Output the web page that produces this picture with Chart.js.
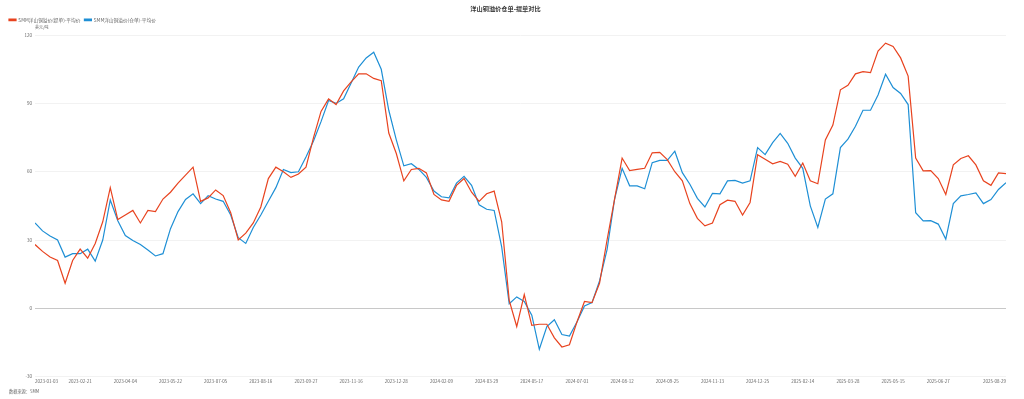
<!DOCTYPE html>
<html lang="zh">
<head>
  <meta charset="UTF-8" />
  <title>洋山铜溢价仓单-提单对比</title>
  <script src="https://cdn.jsdelivr.net/npm/chart.js"></script>
  <style>
    html, body { margin: 0; padding: 0; background: #fff; }
    #wrap { width: 1024px; height: 399px; }
  </style>
</head>
<body>
  <div id="wrap"><canvas id="premiumChart" width="1024" height="399"></canvas></div>
  <script>
    // x 轴刻度（交易日序号 -> 日期）
    const tickDates = ['2023-01-03', '2023-02-21', '2023-04-04', '2023-05-22', '2023-07-05', '2023-08-16',
      '2023-09-27', '2023-11-16', '2023-12-28', '2024-02-09', '2024-03-29', '2024-05-17', '2024-07-01',
      '2024-08-12', '2024-09-25', '2024-11-13', '2024-12-25', '2025-02-14', '2025-03-28', '2025-05-15',
      '2025-06-27', '2025-08-29'];
    const tickIdx = [0, 30, 60, 90, 120, 150, 180, 210, 240, 270, 300, 330, 360, 390, 420, 450, 480, 510,
      540, 570, 600, 645];
    const step = 5; // 每个采样点间隔 5 个交易日

    // SMM洋山铜溢价(提单)-平均价
    const billPremium = [
      28, 25, 22.5, 21, 11, 21, 26, 22, 28.5, 38,
      53, 39, 41, 43, 37.5, 43, 42.5, 48, 51, 55,
      58.5, 62, 47, 48.5, 52, 49.5, 42, 30, 33, 37.5,
      44.5, 57, 62, 60, 57.5, 59, 62, 75, 86.5, 92,
      89.5, 95.5, 99.5, 103, 103, 101, 100, 77, 68, 56,
      61, 61.5, 59.5, 50, 47.6, 47, 54, 57, 51, 47,
      50.3, 51.5, 38, 3.5, -8, 6, -7.5, -7, -7, -13,
      -17, -16, -6, 3, 2.5, 11, 30, 48, 66, 60.5,
      61, 61.5, 68.3, 68.5, 65.3, 60, 56, 46, 39.5, 36.2,
      37.5, 45.5, 47.5, 47, 41, 46.5, 67.5, 65.5, 63.5, 64.5,
      63.3, 58, 63.8, 56, 54.7, 74, 80.5, 96, 98, 103,
      104, 103.5, 113, 116.5, 115, 110, 102, 66, 60.4, 60.5,
      57, 50, 63, 65.8, 67, 63, 56, 54, 59.5, 59.2
    ];
    // SMM洋山铜溢价(仓单)-平均价
    const warrantPremium = [
      37.5, 34, 31.8, 30, 22.5, 24, 24, 26, 20.7, 30,
      47.6, 38.5, 32, 29.8, 28, 25.6, 23, 24, 35, 42.5,
      47.8, 50.3, 46, 49.5, 48, 47, 41, 31, 28.5, 35.5,
      41, 47, 53, 61, 59.6, 60, 66.5, 73.5, 82, 91.3,
      90, 92, 99, 106, 110, 112.5, 105, 87, 74, 62.6,
      63.5, 61, 57.5, 51.5, 49, 48.5, 55, 58, 54, 45.5,
      43.5, 43, 27, 2, 5, 3, -3, -18, -8, -5,
      -11.5, -12.2, -6, 1, 2.5, 12, 25.8, 48, 61.5, 53.8,
      53.8, 52.5, 64, 65, 65, 69, 59.6, 54.5, 48.3, 44.5,
      50.5, 50.3, 56, 56.2, 55, 56, 70.6, 67.5, 72.8, 76.8,
      72.5, 66, 61.5, 45, 35.5, 48, 50.3, 70.6, 74.3, 80,
      87, 87, 93.7, 102.8, 97, 94.4, 89.5, 42, 38.4, 38.5,
      37, 30.4, 46, 49.4, 50, 50.7, 46, 47.8, 52.2, 55.2
    ];

    const RED = '#E8431F';
    const BLUE = '#1E8FD5';
    const FONT = '"Noto Sans CJK SC", "Noto Sans", sans-serif';

    const toPoints = arr => arr.map((v, i) => ({ x: i * step, y: v }));

    // 图例与绘图区之间留出单位文字的位置
    const legendGap = {
      id: 'legendGap',
      beforeInit(chart) {
        const fit = chart.legend.fit;
        chart.legend.fit = function () {
          fit.bind(chart.legend)();
          this.height += 3;
        };
      }
    };

    // 单位与数据来源
    const extraText = {
      id: 'extraText',
      afterDraw(chart) {
        const ctx = chart.ctx;
        ctx.save();
        ctx.fillStyle = '#666';
        ctx.font = '4px ' + FONT;
        ctx.textBaseline = 'middle';
        ctx.fillText('美元/吨', chart.chartArea.left, 27);
        ctx.font = '4.2px ' + FONT;
        ctx.fillText('数据来源：SMM', 9, 391);
        ctx.restore();
      }
    };

    new Chart(document.getElementById('premiumChart'), {
      type: 'line',
      data: {
        datasets: [{
          label: 'SMM洋山铜溢价(提单)-平均价',
          data: toPoints(billPremium),
          borderColor: RED,
          backgroundColor: RED,
          borderWidth: 1.2,
          pointRadius: 0,
          tension: 0
        }, {
          label: 'SMM洋山铜溢价(仓单)-平均价',
          data: toPoints(warrantPremium),
          borderColor: BLUE,
          backgroundColor: BLUE,
          borderWidth: 1.2,
          pointRadius: 0,
          tension: 0
        }]
      },
      options: {
        responsive: false,
        animation: false,
        layout: { padding: { left: 5, right: 18, top: 3, bottom: 13 } },
        plugins: {
          title: {
            display: true,
            text: '洋山铜溢价仓单-提单对比',
            color: '#333',
            font: { family: FONT, size: 6.2, weight: 'bold' },
            padding: { top: 2, bottom: 1 }
          },
          legend: {
            position: 'top',
            align: 'start',
            labels: {
              boxWidth: 7,
              boxHeight: 1.6,
              padding: 4,
              color: '#666',
              font: { family: FONT, size: 4.7 }
            }
          },
          tooltip: { enabled: false }
        },
        scales: {
          x: {
            type: 'linear',
            min: 0,
            max: 645,
            grid: { display: false, drawTicks: false },
            border: { display: false },
            afterBuildTicks(scale) {
              scale.ticks = tickIdx.map(v => ({ value: v }));
            },
            ticks: {
              autoSkip: false,
              maxRotation: 0,
              align: 'inner',
              padding: 2,
              color: '#666',
              font: { family: FONT, size: 4.5 },
              callback: (value) => tickDates[tickIdx.indexOf(value)]
            }
          },
          y: {
            min: -30,
            max: 120,
            afterFit(scale) { scale.width = 30; },
            border: { display: false },
            grid: {
              color: ctx => ctx.tick && ctx.tick.value === 0 ? '#c8c8c8' : '#f2f2f2',
              lineWidth: 1,
              drawTicks: false
            },
            ticks: {
              stepSize: 30,
              padding: 3,
              color: '#666',
              font: { family: FONT, size: 4.5 }
            }
          }
        }
      },
      plugins: [legendGap, extraText]
    });
  </script>
</body>
</html>
